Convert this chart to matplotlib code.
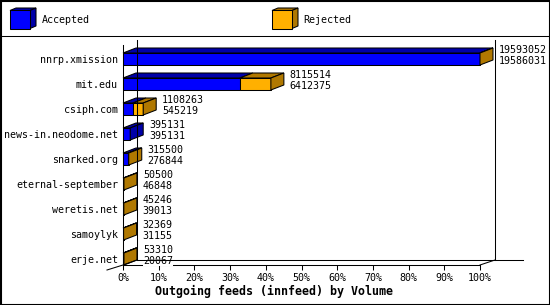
import matplotlib
matplotlib.use("Agg")
import matplotlib.pyplot as plt
from matplotlib.patches import Polygon, Rectangle
from matplotlib.lines import Line2D

hosts = ["nnrp.xmission", "mit.edu", "csiph.com", "news-in.neodome.net",
         "snarked.org", "eternal-september", "weretis.net", "samoylyk", "erje.net"]
offered = [19593052, 8115514, 1108263, 395131, 315500, 50500, 45246, 32369, 53310]
accepted = [19586031, 6412375, 545219, 395131, 276844, 46848, 39013, 31155, 20067]
xticks = list(range(0, 101, 10))
title = "Outgoing feeds (innfeed) by Volume"
legend_labels = ["Accepted", "Rejected"]

BLUE, DBLUE = "#0000FF", "#0000A8"
ORANGE, DORANGE = "#FFB000", "#B07800"
W, H = 550, 305
DPI = 100
LW = 0.75
FONT = "DejaVu Sans Mono"
FS = 7.2

fig = plt.figure(figsize=(W / DPI, H / DPI), dpi=DPI)
fig.patch.set_facecolor("white")


def fx(x):
    return x / W


def fy(y):
    return 1 - y / H


# axes: front plane, pixel box x 123..480, y 45..265
L, R, T, B = 123, 480, 45, 265
ax = fig.add_axes([fx(L), fy(B), (R - L) / W, (B - T) / H])
ax.set_xlim(0, 100)
ax.set_ylim(8.24, -0.56)
ax.set_facecolor("none")
for s in ["top", "right"]:
    ax.spines[s].set_visible(False)
for s in ["left", "bottom"]:
    ax.spines[s].set_linewidth(LW)
ax.set_xticks(xticks)
ax.set_xticklabels([f"{t}%" for t in xticks], fontfamily=FONT, fontsize=FS)
ax.tick_params(axis="x", direction="out", length=3.6, width=LW, pad=2.5)
ax.set_yticks(range(len(hosts)))
ax.set_yticklabels(hosts, fontfamily=FONT, fontsize=FS)
ax.tick_params(axis="y", length=0, pad=3.6)

# depth offsets in data units
px_x = (R - L) / 100.0   # px per percent
px_y = (B - T) / (8.24 + 0.56)  # px per category unit
DX = 13 / px_x
DY = 5 / px_y
BH = 12 / px_y

# back frame lines (figure pixel coords)
def fline(pts, **kw):
    xs = [fx(p[0]) for p in pts]
    ys = [fy(p[1]) for p in pts]
    fig.add_artist(Line2D(xs, ys, color="black", lw=LW, zorder=0.5, **kw))

fline([(137, 40), (137, 260)])
fline([(137, 260), (523, 260)])
fline([(495, 40), (495, 260)])
fline([(480, 265), (495, 260)])
fline([(107, 270), (123, 265), (137, 260)])

vmax = max(offered)
for i, (o, a) in enumerate(zip(offered, accepted)):
    rej = o - a
    xa = a / vmax * 100
    xo = o / vmax * 100
    ytop = i - BH / 2
    ybot = i + BH / 2
    segs = [(0, xa, BLUE, DBLUE)]
    if rej > 0:
        segs.append((xa, xo, ORANGE, DORANGE))
    for x0, x1, fc, dc in segs:
        ax.add_patch(Rectangle((x0, ytop), x1 - x0, BH, facecolor=fc,
                               edgecolor="black", lw=LW, zorder=3, clip_on=False))
        ax.add_patch(Polygon([(x0, ytop), (x1, ytop), (x1 + DX, ytop - DY),
                              (x0 + DX, ytop - DY)], closed=True, facecolor=dc,
                             edgecolor="black", lw=LW, zorder=3, clip_on=False))
    dc = segs[-1][3]
    ax.add_patch(Polygon([(xo, ytop), (xo, ybot), (xo + DX, ybot - DY),
                          (xo + DX, ytop - DY)], closed=True, facecolor=dc,
                         edgecolor="black", lw=LW, zorder=3.5, clip_on=False))
    for val, dy_px in ((o, 9), (a, -2)):
        ax.annotate(str(val), (xo + DX, i), xytext=(6 * 0.72, dy_px * 0.72),
                    textcoords="offset points", ha="left", va="center",
                    fontfamily=FONT, fontsize=FS, annotation_clip=False,
                    bbox=dict(facecolor="white", edgecolor="none", pad=0),
                    zorder=4)

fig.text(fx(274), fy(291), title, ha="center", va="center",
         fontfamily=FONT, fontsize=8.4, fontweight="bold")

# legend
def cube(x, y, fc, dc):
    w, h, dx, dy = 20, 18, 6, 2.5
    fig.add_artist(Polygon([(fx(x), fy(y)), (fx(x + w), fy(y)),
                            (fx(x + w + dx), fy(y - dy)), (fx(x + dx), fy(y - dy))],
                           closed=True, facecolor=dc, edgecolor="black", lw=LW))
    fig.add_artist(Polygon([(fx(x + w), fy(y)), (fx(x + w), fy(y + h)),
                            (fx(x + w + dx), fy(y + h - dy)), (fx(x + w + dx), fy(y - dy))],
                           closed=True, facecolor=dc, edgecolor="black", lw=LW))
    fig.add_artist(Rectangle((fx(x), fy(y + h)), w / W, h / H, facecolor=fc,
                             edgecolor="black", lw=LW))

cube(10, 10.5, BLUE, DBLUE)
fig.text(fx(42), fy(20), legend_labels[0], ha="left", va="center",
         fontfamily=FONT, fontsize=FS)
cube(272, 10.5, ORANGE, DORANGE)
fig.text(fx(303), fy(20), legend_labels[1], ha="left", va="center",
         fontfamily=FONT, fontsize=FS)

fline([(0, 35.5), (550, 35.5)])
fig.add_artist(Rectangle((fx(0.5), fy(304.5)), 549 / W, 304 / H, facecolor="none",
                         edgecolor="black", lw=1.5))

fig.savefig("out.png", dpi=DPI)
